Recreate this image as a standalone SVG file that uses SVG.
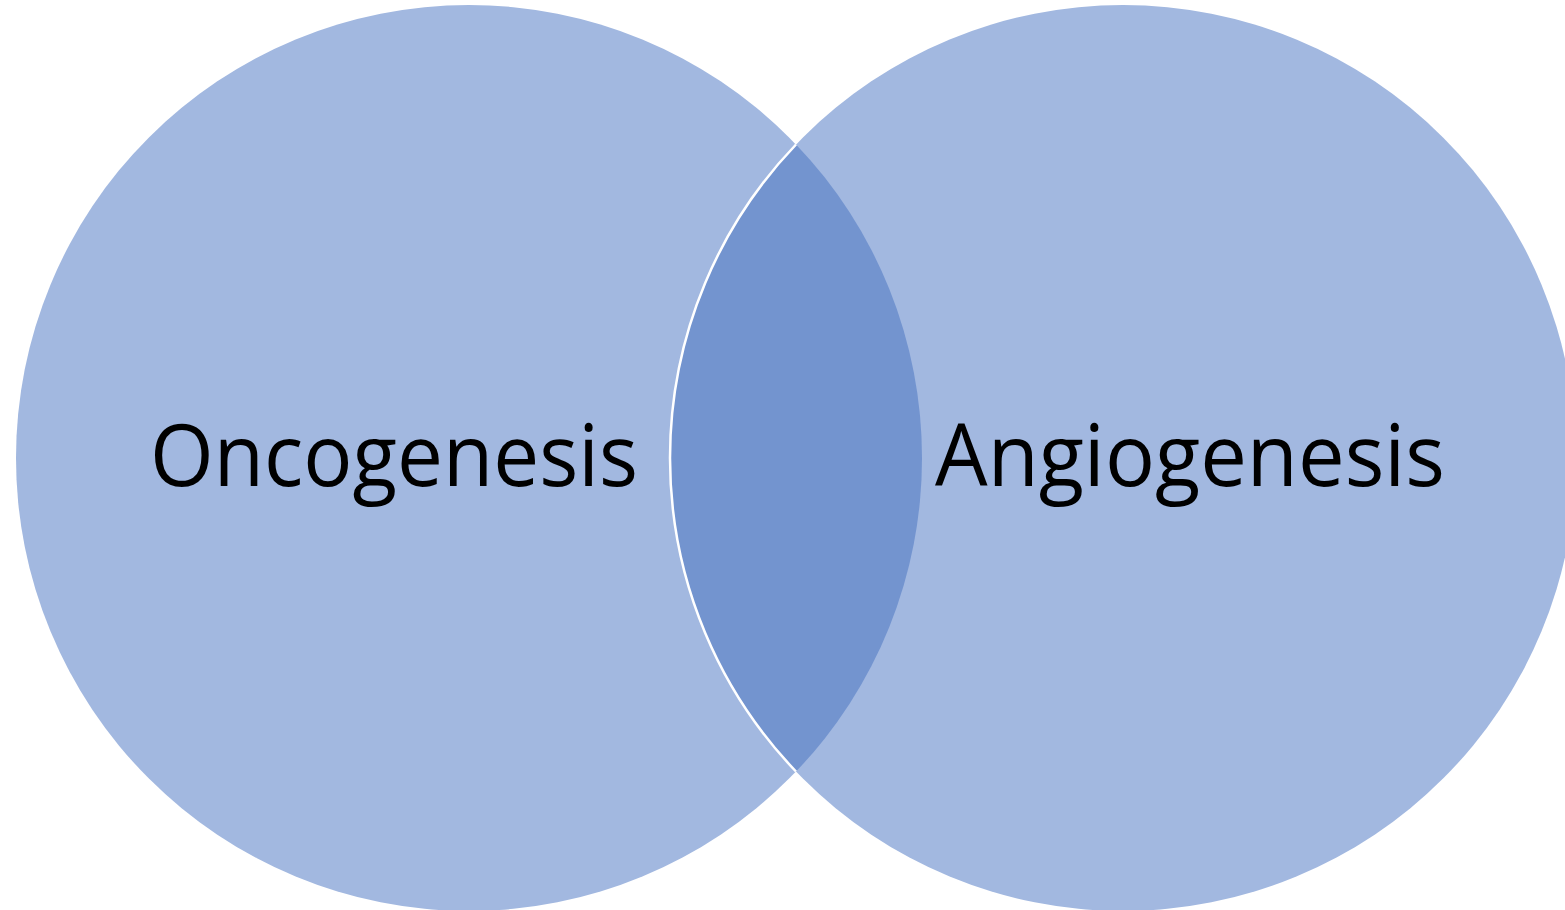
<svg xmlns="http://www.w3.org/2000/svg" width="1565" height="910" viewBox="0 0 1565 910">
<style>
.c{fill:#A2B8E0}
.lens{fill:#7394CF}
.t{font-family:"Open Sans","Liberation Sans",sans-serif;font-size:86px;fill:#000}
</style>
<rect width="1565" height="910" fill="#fff"/>
<g id="oncogenesis">
<circle class="c" cx="469" cy="458" r="453"/>
</g>
<g id="angiogenesis">
<circle class="c" cx="1123" cy="458" r="453"/>
</g>
<g id="overlap">
<path class="lens" d="M796,144.5 A453,453 0 0 1 796,771.5 A453,453 0 0 1 796,144.5 Z"/>
<path d="M796,144.5 A453,453 0 0 0 796,771.5" fill="none" stroke="#fff" stroke-width="2.5"/>
</g>
<g id="labels">
<text class="t" x="150" y="486" textLength="488" lengthAdjust="spacingAndGlyphs">Oncogenesis</text>
<text class="t" x="935" y="486" textLength="510" lengthAdjust="spacingAndGlyphs">Angiogenesis</text>
</g>
</svg>
